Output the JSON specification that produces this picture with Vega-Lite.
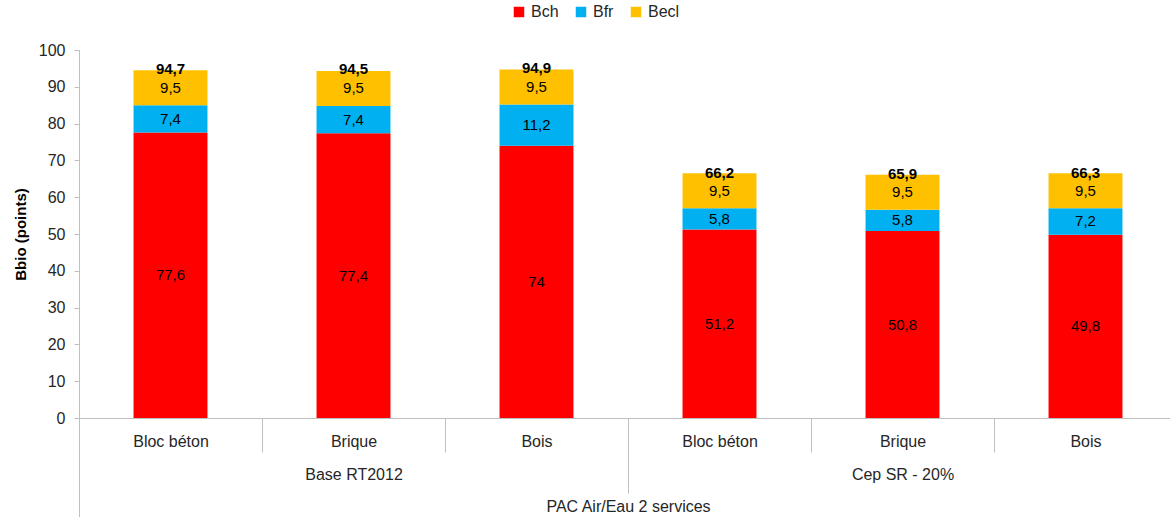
{
  "$schema": "https://vega.github.io/schema/vega-lite/v6.json",
  "autosize": "none",
  "width": 1098,
  "height": 368,
  "padding": {"left": 79, "top": 50, "right": 0, "bottom": 99},
  "background": "white",
  "datasets": {
    "segments": [
      {"bar": "Base RT2012|Bloc béton", "series": "Bch", "ord": 1, "value": 77.6},
      {"bar": "Base RT2012|Bloc béton", "series": "Bfr", "ord": 2, "value": 7.4},
      {"bar": "Base RT2012|Bloc béton", "series": "Becl", "ord": 3, "value": 9.5},
      {"bar": "Base RT2012|Brique", "series": "Bch", "ord": 1, "value": 77.4},
      {"bar": "Base RT2012|Brique", "series": "Bfr", "ord": 2, "value": 7.4},
      {"bar": "Base RT2012|Brique", "series": "Becl", "ord": 3, "value": 9.5},
      {"bar": "Base RT2012|Bois", "series": "Bch", "ord": 1, "value": 74},
      {"bar": "Base RT2012|Bois", "series": "Bfr", "ord": 2, "value": 11.2},
      {"bar": "Base RT2012|Bois", "series": "Becl", "ord": 3, "value": 9.5},
      {"bar": "Cep SR - 20%|Bloc béton", "series": "Bch", "ord": 1, "value": 51.2},
      {"bar": "Cep SR - 20%|Bloc béton", "series": "Bfr", "ord": 2, "value": 5.8},
      {"bar": "Cep SR - 20%|Bloc béton", "series": "Becl", "ord": 3, "value": 9.5},
      {"bar": "Cep SR - 20%|Brique", "series": "Bch", "ord": 1, "value": 50.8},
      {"bar": "Cep SR - 20%|Brique", "series": "Bfr", "ord": 2, "value": 5.8},
      {"bar": "Cep SR - 20%|Brique", "series": "Becl", "ord": 3, "value": 9.5},
      {"bar": "Cep SR - 20%|Bois", "series": "Bch", "ord": 1, "value": 49.8},
      {"bar": "Cep SR - 20%|Bois", "series": "Bfr", "ord": 2, "value": 7.2},
      {"bar": "Cep SR - 20%|Bois", "series": "Becl", "ord": 3, "value": 9.5}
    ],
    "totals": [
      {"bar": "Base RT2012|Bloc béton", "total": 94.7},
      {"bar": "Base RT2012|Brique", "total": 94.5},
      {"bar": "Base RT2012|Bois", "total": 94.9},
      {"bar": "Cep SR - 20%|Bloc béton", "total": 66.2},
      {"bar": "Cep SR - 20%|Brique", "total": 65.9},
      {"bar": "Cep SR - 20%|Bois", "total": 66.3}
    ],
    "groups": [
      {"group": "Base RT2012"},
      {"group": "Cep SR - 20%"}
    ],
    "systems": [
      {"system": "PAC Air/Eau 2 services"}
    ]
  },
  "layer": [
    {
      "encoding": {
        "x": {
          "field": "bar",
          "type": "nominal",
          "sort": null,
          "scale": {"paddingInner": 0, "paddingOuter": 0},
          "axis": {
            "orient": "bottom",
            "title": null,
            "labelAngle": 0,
            "labelExpr": "split(datum.label, '|')[1]",
            "labelBaseline": "middle",
            "labelPadding": -11,
            "labelFontSize": 16,
            "labelColor": "#262626",
            "domainColor": "#BFBFBF",
            "tickColor": "#BFBFBF",
            "tickBand": "extent",
            "tickSize": 34
          }
        }
      },
      "layer": [
        {
          "data": {"name": "segments"},
          "mark": {"type": "bar", "width": {"band": 0.404}},
          "encoding": {
            "y": {
              "field": "value",
              "type": "quantitative",
              "stack": "zero",
              "scale": {"domain": [0, 100]},
              "axis": {
                "title": "Bbio (points)",
                "values": [0, 10, 20, 30, 40, 50, 60, 70, 80, 90, 100]
              }
            },
            "color": {
              "field": "series",
              "type": "nominal",
              "scale": {"domain": ["Bch", "Bfr", "Becl"], "range": ["#FF0000", "#00B0F0", "#FFC000"]},
              "legend": {
                "orient": "none",
                "legendX": 432,
                "legendY": -46,
                "direction": "horizontal",
                "title": null,
                "symbolType": "square",
                "symbolSize": 110,
                "symbolStrokeWidth": 0,
                "labelFontSize": 16,
                "labelColor": "#262626",
                "columnPadding": 14
              }
            },
            "order": {"field": "ord", "type": "quantitative"}
          }
        },
        {
          "data": {"name": "segments"},
          "transform": [
            {"stack": "value", "groupby": ["bar"], "sort": [{"field": "ord"}], "as": ["v0", "v1"]},
            {"calculate": "(datum.v0 + datum.v1) / 2", "as": "mid"}
          ],
          "mark": {"type": "text", "fontSize": 15, "color": "#000000", "baseline": "middle"},
          "encoding": {
            "y": {
              "field": "mid",
              "type": "quantitative",
              "axis": {
                "title": "Bbio (points)",
                "values": [0, 10, 20, 30, 40, 50, 60, 70, 80, 90, 100]
              }
            },
            "text": {"field": "value", "type": "quantitative", "format": ".1~f"}
          }
        },
        {
          "data": {"name": "totals"},
          "mark": {"type": "text", "fontSize": 15, "fontWeight": "bold", "color": "#000000", "baseline": "middle", "dy": -1},
          "encoding": {
            "y": {
              "field": "total",
              "type": "quantitative",
              "axis": {
                "title": "Bbio (points)",
                "values": [0, 10, 20, 30, 40, 50, 60, 70, 80, 90, 100]
              }
            },
            "text": {"field": "total", "type": "quantitative", "format": ".1~f"}
          }
        }
      ]
    },
    {
      "data": {"name": "groups"},
      "mark": {"type": "rule", "opacity": 0},
      "encoding": {
        "x": {
          "field": "group",
          "type": "nominal",
          "sort": null,
          "scale": {"paddingInner": 0, "paddingOuter": 0},
          "axis": {
            "orient": "bottom",
            "title": null,
            "domain": false,
            "labelAngle": 0,
            "labelBaseline": "middle",
            "labelPadding": -19,
            "labelFontSize": 16,
            "labelColor": "#262626",
            "tickColor": "#BFBFBF",
            "tickBand": "extent",
            "tickSize": 75
          }
        }
      }
    },
    {
      "data": {"name": "systems"},
      "mark": {"type": "rule", "opacity": 0},
      "encoding": {
        "x": {
          "field": "system",
          "type": "nominal",
          "scale": {"paddingInner": 0, "paddingOuter": 0},
          "axis": {
            "orient": "bottom",
            "title": null,
            "domain": false,
            "labelAngle": 0,
            "labelBaseline": "middle",
            "labelPadding": -11,
            "labelFontSize": 16,
            "labelColor": "#262626",
            "tickColor": "#BFBFBF",
            "tickBand": "extent",
            "tickSize": 99
          }
        }
      }
    }
  ],
  "resolve": {"scale": {"x": "independent"}},
  "config": {
    "font": "Liberation Sans",
    "view": {"stroke": null},
    "axisY": {
      "titleFontSize": 15,
      "titleFontWeight": "bold",
      "titleColor": "#000000",
      "titlePadding": 10,
      "grid": false,
      "labelFontSize": 16,
      "labelColor": "#262626",
      "labelPadding": 9,
      "labelOverlap": false,
      "tickSize": 5,
      "tickColor": "#BFBFBF",
      "domainColor": "#BFBFBF"
    },
    "locale": {
      "number": {"decimal": ",", "thousands": " ", "grouping": [3], "currency": ["", " €"]}
    }
  }
}
